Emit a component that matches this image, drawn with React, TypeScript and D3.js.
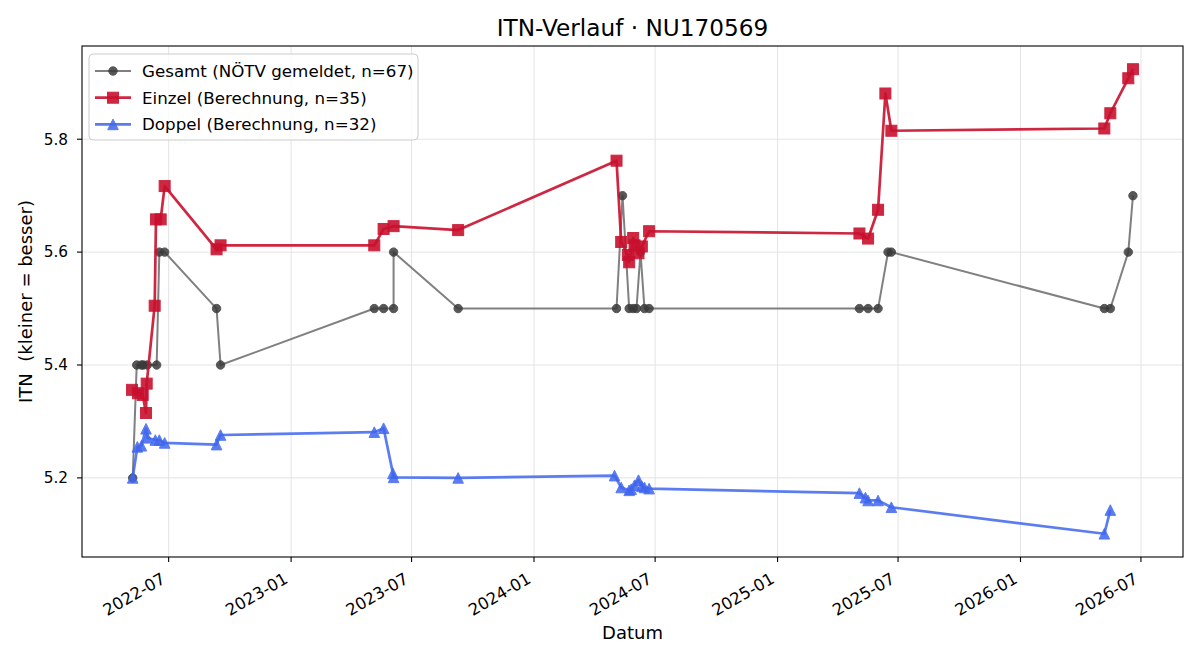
import React from "react";
import * as d3 from "d3";

const width = 1200;
const height = 660;
const box = { left: 82, top: 46, right: 1183, bottom: 557 };

// [datum, ITN] je Serie
const gesamt: [string, number][] = [
  ["2022-05-08", 5.2], ["2022-05-14", 5.4], ["2022-05-21", 5.4], ["2022-05-24", 5.4],
  ["2022-05-30", 5.4], ["2022-06-13", 5.4], ["2022-06-17", 5.6], ["2022-06-25", 5.6],
  ["2022-09-11", 5.5], ["2022-09-17", 5.4], ["2023-05-06", 5.5], ["2023-05-20", 5.5],
  ["2023-06-04", 5.5], ["2023-06-04", 5.6], ["2023-09-09", 5.5], ["2024-05-04", 5.5],
  ["2024-05-13", 5.7], ["2024-05-23", 5.5], ["2024-05-29", 5.5], ["2024-06-03", 5.5],
  ["2024-06-09", 5.6], ["2024-06-15", 5.5], ["2024-06-22", 5.5], ["2025-05-04", 5.5],
  ["2025-05-17", 5.5], ["2025-06-01", 5.5], ["2025-06-16", 5.6], ["2025-06-21", 5.6],
  ["2026-05-07", 5.5], ["2026-05-16", 5.5], ["2026-06-12", 5.6], ["2026-06-19", 5.7],
];

const einzel: [string, number][] = [
  ["2022-05-07", 5.356], ["2022-05-16", 5.35], ["2022-05-23", 5.347], ["2022-05-28", 5.315],
  ["2022-05-29", 5.367], ["2022-06-10", 5.505], ["2022-06-12", 5.658], ["2022-06-19", 5.658],
  ["2022-06-25", 5.717], ["2022-09-11", 5.605], ["2022-09-17", 5.612], ["2023-05-06", 5.612],
  ["2023-05-20", 5.641], ["2023-06-04", 5.646], ["2023-09-09", 5.639], ["2024-05-04", 5.762],
  ["2024-05-11", 5.618], ["2024-05-21", 5.595], ["2024-05-23", 5.582], ["2024-05-29", 5.625],
  ["2024-05-31", 5.612], ["2024-06-06", 5.598], ["2024-06-11", 5.61], ["2024-06-22", 5.637],
  ["2025-05-04", 5.633], ["2025-05-17", 5.624], ["2025-06-01", 5.675], ["2025-06-12", 5.881],
  ["2025-06-21", 5.815], ["2026-05-07", 5.819], ["2026-05-16", 5.846], ["2026-06-12", 5.908],
  ["2026-06-19", 5.924],
];

const doppel: [string, number][] = [
  ["2022-05-08", 5.2], ["2022-05-15", 5.255], ["2022-05-21", 5.257], ["2022-05-28", 5.287],
  ["2022-05-30", 5.271], ["2022-06-11", 5.267], ["2022-06-17", 5.267], ["2022-06-25", 5.262],
  ["2022-09-11", 5.259], ["2022-09-17", 5.276], ["2023-05-06", 5.281], ["2023-05-20", 5.288],
  ["2023-06-03", 5.208], ["2023-06-04", 5.201], ["2023-09-09", 5.2], ["2024-05-01", 5.204],
  ["2024-05-11", 5.183], ["2024-05-23", 5.178], ["2024-05-26", 5.18], ["2024-05-31", 5.187],
  ["2024-06-06", 5.196], ["2024-06-11", 5.185], ["2024-06-15", 5.183], ["2024-06-22", 5.181],
  ["2025-05-04", 5.173], ["2025-05-13", 5.165], ["2025-05-17", 5.16], ["2025-06-01", 5.16],
  ["2025-06-21", 5.148], ["2026-05-07", 5.101], ["2026-05-16", 5.143],
];

const legendLabels = [
  "Gesamt (NÖTV gemeldet, n=67)",
  "Einzel (Berechnung, n=35)",
  "Doppel (Berechnung, n=32)",
];
const yTicks = [5.2, 5.4, 5.6, 5.8];

const parse = d3.timeParse("%Y-%m-%d");
const font = "'DejaVu Sans', sans-serif";

const series = [
  { data: gesamt, color: "#555555", mColor: "#3a3a3a", alpha: 0.75, mAlpha: 0.85, lw: 2, marker: "o" },
  { data: einzel, color: "#c8102e", mColor: "#c8102e", alpha: 0.9, mAlpha: 0.9, lw: 2.7, marker: "s" },
  { data: doppel, color: "#3f66ee", mColor: "#3f66ee", alpha: 0.85, mAlpha: 0.85, lw: 2.7, marker: "^" },
];

function Marker({ kind, x, y, color }: { kind: string; x: number; y: number; color: string }) {
  if (kind === "o") return <circle cx={x} cy={y} r={4.2} fill={color} stroke={color} strokeWidth={1} />;
  if (kind === "s")
    return <rect x={x - 5.5} y={y - 5.5} width={11} height={11} fill={color} stroke={color} strokeWidth={1} />;
  return (
    <path
      d={`M${x},${y - 5.3}L${x - 5.3},${y + 5.3}L${x + 5.3},${y + 5.3}Z`}
      fill={color}
      stroke={color}
      strokeWidth={1}
    />
  );
}

export default function App() {
  const all = [...gesamt, ...einzel, ...doppel];
  const [t0, t1] = d3.extent(all, (d) => parse(d[0])!.getTime()) as [number, number];
  const [v0, v1] = d3.extent(all, (d) => d[1]) as [number, number];
  const tp = (t1 - t0) * 0.05;
  const vp = (v1 - v0) * 0.05;

  const x = d3
    .scaleTime()
    .domain([new Date(t0 - tp), new Date(t1 + tp)])
    .range([box.left, box.right]);
  const y = d3
    .scaleLinear()
    .domain([v0 - vp, v1 + vp])
    .range([box.bottom, box.top]);

  const xTicks = d3.timeMonth.every(6)!.range(new Date(2022, 6, 1), new Date(2026, 7, 1));
  const fmt = d3.timeFormat("%Y-%m");

  const line = d3
    .line<[string, number]>()
    .x((d) => x(parse(d[0])!))
    .y((d) => y(d[1]));

  return (
    <svg
      width={width}
      height={height}
      style={{ position: "absolute", left: 0, top: 0, background: "#fff", fontFamily: font }}
    >
      {/* grid */}
      {xTicks.map((t, i) => (
        <line key={"gx" + i} x1={x(t)} x2={x(t)} y1={box.top} y2={box.bottom} stroke="#e4e4e4" strokeWidth={1} />
      ))}
      {yTicks.map((v, i) => (
        <line key={"gy" + i} x1={box.left} x2={box.right} y1={y(v)} y2={y(v)} stroke="#e4e4e4" strokeWidth={1} />
      ))}

      {/* series */}
      {series.map((s, si) => (
        <g key={"s" + si}>
          <path d={line(s.data)!} fill="none" stroke={s.color} strokeWidth={s.lw} opacity={s.alpha} strokeLinejoin="round" />
          {s.data.map((d, i) => (
            <g key={i} opacity={s.mAlpha}>
              <Marker kind={s.marker} x={x(parse(d[0])!)} y={y(d[1])} color={s.mColor} />
            </g>
          ))}
        </g>
      ))}

      {/* frame */}
      <rect
        x={box.left}
        y={box.top}
        width={box.right - box.left}
        height={box.bottom - box.top}
        fill="none"
        stroke="#000"
        strokeWidth={1.1}
      />

      {/* y axis */}
      {yTicks.map((v, i) => (
        <g key={"ty" + i}>
          <line x1={box.left - 5} x2={box.left} y1={y(v)} y2={y(v)} stroke="#000" strokeWidth={1.1} />
          <text x={box.left - 14} y={y(v)} dy="0.35em" textAnchor="end" fontSize={15.3} fill="#000">
            {v.toFixed(1)}
          </text>
        </g>
      ))}

      {/* x axis */}
      {xTicks.map((t, i) => (
        <g key={"tx" + i}>
          <line x1={x(t)} x2={x(t)} y1={box.bottom} y2={box.bottom + 5} stroke="#000" strokeWidth={1.1} />
          <text
            transform={`translate(${x(t) - 2},${box.bottom + 25}) rotate(-30)`}
            textAnchor="end"
            fontSize={16.4}
            fill="#000"
          >
            {fmt(t)}
          </text>
        </g>
      ))}

      {/* labels */}
      <text x={(box.left + box.right) / 2} y={36} textAnchor="middle" fontSize={23.2} fill="#000">
        ITN-Verlauf · NU170569
      </text>
      <text x={(box.left + box.right) / 2} y={639} textAnchor="middle" fontSize={18} fill="#000">
        Datum
      </text>
      <text
        transform={`translate(32,${(box.top + box.bottom) / 2}) rotate(-90)`}
        textAnchor="middle"
        fontSize={18}
        fill="#000"
        style={{ whiteSpace: "pre" }}
      >
        {"ITN  (kleiner = besser)"}
      </text>

      {/* legend */}
      <g>
        <rect x={89} y={54} width={329} height={86} rx={4} fill="#fff" fillOpacity={0.8} stroke="#cccccc" strokeWidth={1} />
        {series.map((s, i) => {
          const ry = 71 + i * 26.7;
          return (
            <g key={"lg" + i}>
              <line x1={95} x2={131} y1={ry} y2={ry} stroke={s.color} strokeWidth={s.lw} opacity={s.alpha} />
              <g opacity={s.mAlpha}>
                <Marker kind={s.marker} x={113} y={ry} color={s.mColor} />
              </g>
              <text x={142} y={ry} dy="0.36em" fontSize={16.7} fill="#000">
                {legendLabels[i]}
              </text>
            </g>
          );
        })}
      </g>
    </svg>
  );
}
